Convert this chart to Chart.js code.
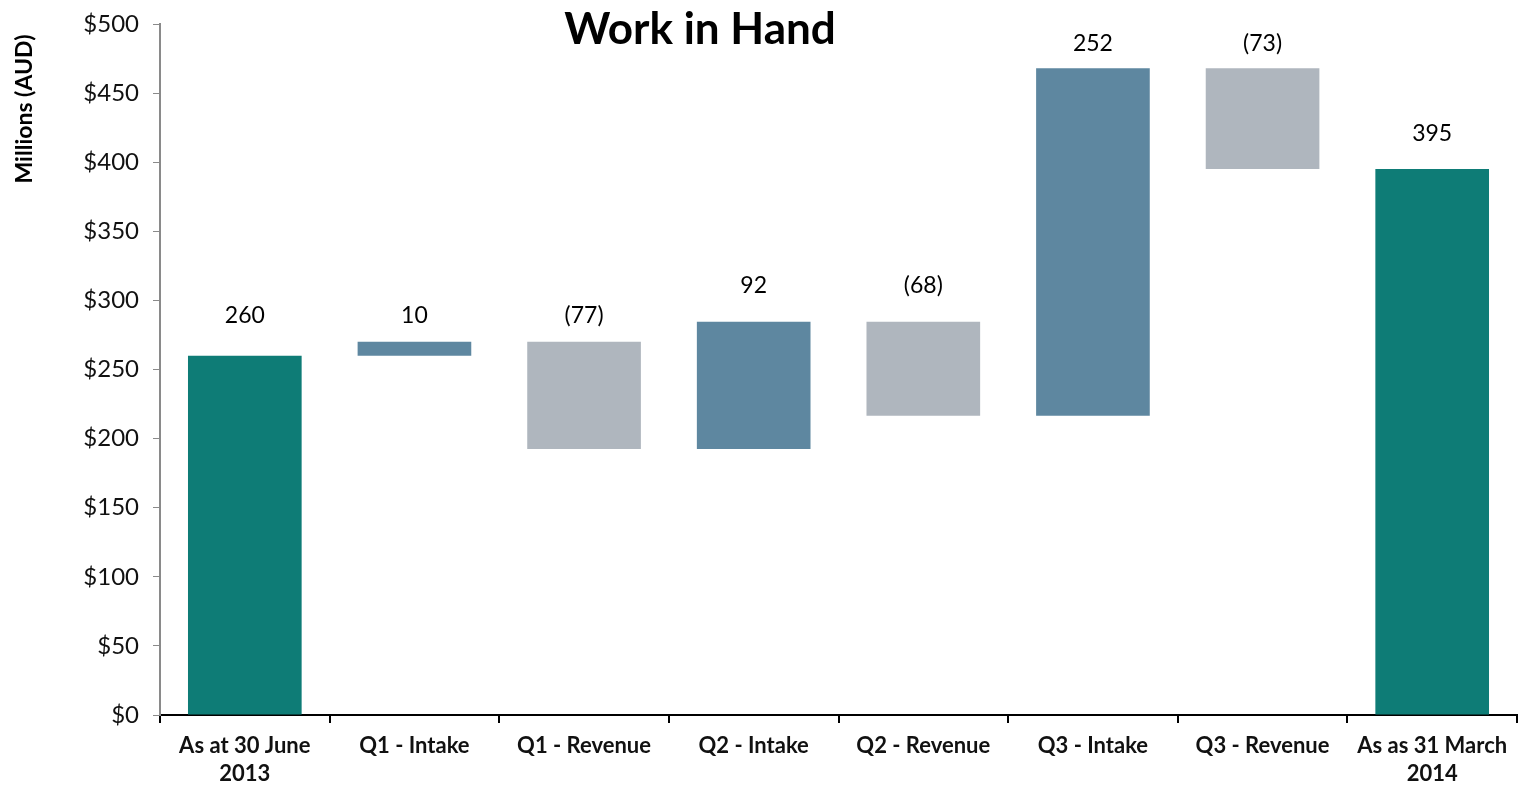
<!DOCTYPE html>
<html>
<head>
<meta charset="utf-8">
<script src="https://cdn.jsdelivr.net/npm/chart.js@4/dist/chart.umd.min.js"></script>
<style>
  html, body { margin: 0; padding: 0; background: #fff; }
  #wrap { width: 1523px; height: 788px; }
</style>
</head>
<body>
<div id="wrap"><canvas id="chart"></canvas></div>
<script>
"use strict";

// Categories (x axis)
const categories = [
  ["As at 30 June", "2013"],
  "Q1 - Intake",
  "Q1 - Revenue",
  "Q2 - Intake",
  "Q2 - Revenue",
  "Q3 - Intake",
  "Q3 - Revenue",
  ["As as 31 March", "2014"],
];

// Waterfall bars: bottom and top of each bar (millions AUD)
const barFrom = [0, 260, 270, 192.5, 284.5, 216.5, 468, 0];
const barTo = [260, 270, 192.5, 284.5, 216.5, 468, 395, 395];

// Bar kinds: total, increase, decrease
const barKind = ["total", "up", "down", "up", "down", "up", "down", "total"];

// Value labels and the level they sit at
const valueLabels = ["260", "10", "(77)", "92", "(68)", "252", "(73)", "395"];
const labelLevels = [289, 289, 289, 311, 311, 486, 486, 421];

// Y axis ticks
const yTicks = [0, 50, 100, 150, 200, 250, 300, 350, 400, 450, 500];

const kindColors = { total: "#0E7C76", up: "#5E87A0", down: "#AFB6BE" };
const fontFamily = "Lato, 'Open Sans', sans-serif";

// Draw value labels, title and y axis title
const extrasPlugin = {
  id: "extras",
  afterDatasetsDraw(chart) {
    const ctx = chart.ctx;
    const x = chart.scales.x;
    const y = chart.scales.y;
    ctx.save();
    ctx.fillStyle = "#000";
    ctx.textAlign = "center";
    ctx.textBaseline = "middle";
    ctx.font = "23px " + fontFamily;
    for (let i = 0; i < valueLabels.length; i++) {
      ctx.fillText(valueLabels[i], x.getPixelForValue(i), y.getPixelForValue(labelLevels[i]));
    }

    // Title
    ctx.font = "bold 44px " + fontFamily;
    ctx.fillText("Work in Hand", 700, 30);

    // Y axis title
    ctx.translate(25, 109);
    ctx.rotate(-Math.PI / 2);
    ctx.font = "bold 23px " + fontFamily;
    ctx.fillText("Millions (AUD)", 0, 0);
    ctx.restore();
  },
};

const ctx = document.getElementById("chart").getContext("2d");
const chart = new Chart(ctx, {
  type: "bar",
  data: {
    labels: categories,
    datasets: [
      {
        label: "Work in Hand",
        data: barFrom.map((from, i) => [from, barTo[i]]),
        backgroundColor: barKind.map((k) => kindColors[k]),
        borderWidth: 0,
        categoryPercentage: 1,
        barPercentage: 0.67,
      },
    ],
  },
  options: {
    responsive: true,
    maintainAspectRatio: false,
    animation: false,
    layout: {
      padding: { top: 24, right: 6, left: 0, bottom: 0 },
    },
    scales: {
      x: {
        grid: {
          offset: true,
          drawOnChartArea: false,
          drawTicks: true,
          tickLength: 8,
          color: "#000",
          lineWidth: 2,
        },
        border: { color: "#000", width: 2 },
        ticks: {
          color: "#111",
          padding: 9,
          maxRotation: 0,
          autoSkip: false,
          font: { family: fontFamily, size: 22, weight: "bold", lineHeight: 1.27 },
        },
        afterFit(scale) {
          scale.height = 73;
          scale.paddingLeft = 0;
          scale.paddingRight = 0;
        },
      },
      y: {
        min: 0,
        max: 500,
        afterBuildTicks(scale) {
          scale.ticks = yTicks.map((v) => ({ value: v }));
        },
        grid: {
          drawOnChartArea: false,
          drawTicks: true,
          tickLength: 7,
          color: "#8a8a8a",
        },
        border: { color: "#8a8a8a", width: 2 },
        ticks: {
          color: "#111",
          padding: 14,
          font: { family: fontFamily, size: 24 },
          callback: (v) => "$" + v,
        },
        afterFit(scale) {
          scale.width = 160;
          scale.paddingTop = 0;
          scale.paddingBottom = 0;
        },
      },
    },
    plugins: {
      legend: { display: false },
      title: { display: false },
      tooltip: { enabled: false },
    },
  },
  plugins: [extrasPlugin],
});
</script>
</body>
</html>
